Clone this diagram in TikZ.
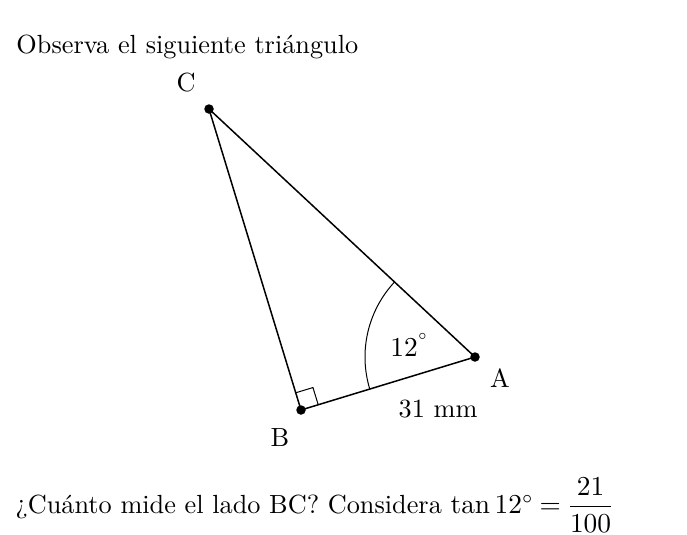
\documentclass[tikz,border=0pt]{standalone}
\usepackage{amsmath}
\usepackage{tikz}
\usetikzlibrary{angles, positioning}
\tikzset{
  vertex/.style={
    circle, fill, inner sep=0pt, minimum size=3.8pt
  },
  vlabel/.style={
    font=\fontsize{10.5}{12}\selectfont, inner sep=1pt
  },
  sideline/.style={
    line width=0.6pt
  },
  textline/.style={
    anchor=west, font=\fontsize{10.5}{12}\selectfont, inner sep=0pt
  },
}

\begin{document}
\begin{tikzpicture}[x=0.4pt, y=-0.4pt]

  \useasboundingbox (0,0) rectangle (687,534);

  %%% Statement %%%
  \node[textline] (title) at (16,47) {Observa el siguiente tri\'angulo};

  %%% Vertices %%%
  \node[vertex] (C) at (209,109) {};
  \node[vertex] (B) at (301,410) {};
  \node[vertex] (A) at (475,357) {};

  %%% Triangle %%%
  \draw[sideline] (A.center) -- (B.center) -- (C.center) -- cycle;

  %%% Angle marks %%%
  \pic[draw, line width=0.4pt, angle radius=44pt] {angle = C--A--B};
  \pic[draw, line width=0.4pt, angle radius=7.2pt] {right angle = A--B--C};

  %%% Labels %%%
  \node[vlabel] (lC) at (186,83) {C};
  \node[vlabel] (lB) at (280,438) {B};
  \node[vlabel] (lA) at (500,378) {A};
  \node[vlabel] (lang) at (410,345) {$12^{^\circ}$};
  \node[vlabel] (lside) at (438,409) {31 mm};

  %%% Question %%%
  \node[textline] (question) at (15,505)
    {¿Cu\'anto mide el lado BC? Considera
     $\thickmuskip=4mu \tan 12^\circ = \dfrac{21}{100}$};

\end{tikzpicture}
\end{document}
